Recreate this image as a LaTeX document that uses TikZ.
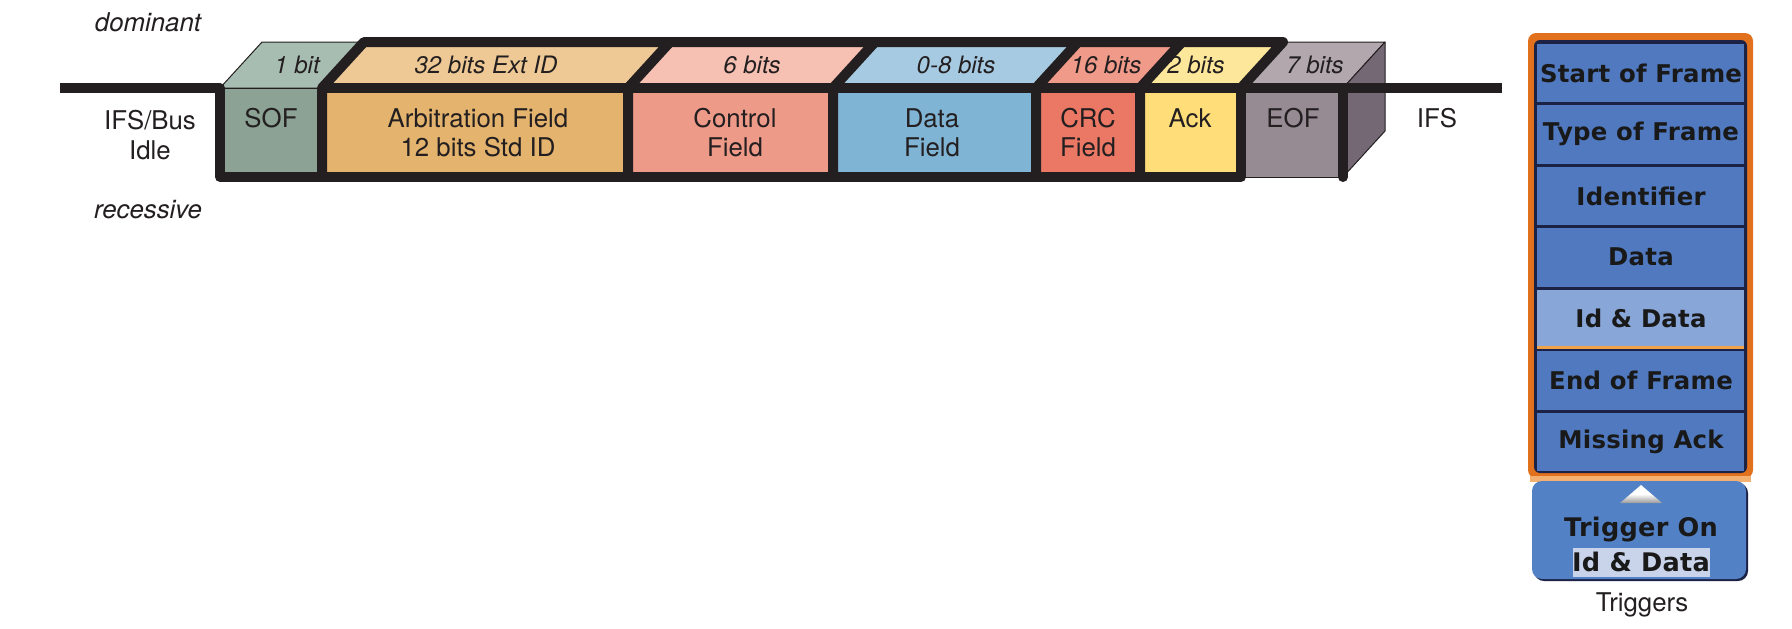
\documentclass[tikz,border=0pt]{standalone}
\usepackage{fontspec}
\setsansfont{TeX Gyre Heros}
\newfontfamily\panelfont[LetterSpace=1]{DejaVu Sans Bold}
\usepackage{tikz}
\usetikzlibrary{shadings}
\definecolor{can-ink}{HTML}{231F20}
\definecolor{sof-front}{HTML}{8BA294}
\definecolor{sof-top}{HTML}{A8BDB1}
\definecolor{arb-front}{HTML}{E4B36E}
\definecolor{arb-top}{HTML}{EEC995}
\definecolor{ctl-front}{HTML}{EE9A89}
\definecolor{ctl-top}{HTML}{F6C0B3}
\definecolor{dat-front}{HTML}{80B4D4}
\definecolor{dat-top}{HTML}{A6CAE1}
\definecolor{crc-front}{HTML}{EA7865}
\definecolor{crc-top}{HTML}{F09A89}
\definecolor{ack-front}{HTML}{FFDE7A}
\definecolor{ack-top}{HTML}{FDE79A}
\definecolor{eof-front}{HTML}{978B93}
\definecolor{eof-top}{HTML}{B1A7AC}
\definecolor{eof-side}{HTML}{746875}
\definecolor{panel-orange}{HTML}{E2711E}
\definecolor{panel-glow}{HTML}{F4B070}
\definecolor{panel-navy}{HTML}{1B2246}
\definecolor{panel-blue}{HTML}{5079BF}
\definecolor{panel-light}{HTML}{89A6D8}
\definecolor{panel-sel}{HTML}{EFA24A}
\definecolor{button-blue}{HTML}{5281C6}
\definecolor{button-hl}{HTML}{C9D4EA}

\begin{document}
\begin{tikzpicture}[x=0.5pt, y=-0.5pt, line join=round,
    facethin/.style={draw=can-ink, line width=0.5pt},
    wirethick/.style={draw=can-ink, line width=5pt},
    fieldlbl/.style={font=\sffamily\fontsize{12.9}{14.6}\selectfont, text=can-ink, align=center, inner sep=0pt},
    bitlbl/.style={font=\sffamily\itshape\fontsize{12}{14}\selectfont, text=can-ink, inner sep=0pt},
    panelrow/.style={fill=panel-blue},
    rowtext/.style={font=\panelfont\fontsize{12.2}{13}\selectfont, text=black!90, inner sep=0pt}]

    \useasboundingbox (0,0) rectangle (1792,628);

    % top faces of the frame fields
    \filldraw[facethin, fill=sof-top] (220,88) -- (262,42) -- (364,42) -- (322,88) -- cycle;
    \filldraw[facethin, fill=arb-top] (322,88) -- (364,42) -- (670,42) -- (628,88) -- cycle;
    \filldraw[facethin, fill=ctl-top] (628,88) -- (670,42) -- (875,42) -- (833,88) -- cycle;
    \filldraw[facethin, fill=dat-top] (833,88) -- (875,42) -- (1078,42) -- (1036,88) -- cycle;
    \filldraw[facethin, fill=crc-top] (1036,88) -- (1078,42) -- (1182,42) -- (1140,88) -- cycle;
    \filldraw[facethin, fill=ack-top] (1140,88) -- (1182,42) -- (1283,42) -- (1241,88) -- cycle;
    \filldraw[facethin, fill=eof-top] (1241,88) -- (1283,42) -- (1385,42) -- (1343,88) -- cycle;
    \filldraw[facethin, fill=eof-side] (1343,88) -- (1385,42) -- (1385,131) -- (1343,177) -- cycle;

    % front faces
    \filldraw[facethin, fill=sof-front] (220,88) rectangle (322,177);
    \filldraw[facethin, fill=arb-front] (322,88) rectangle (628,177);
    \filldraw[facethin, fill=ctl-front] (628,88) rectangle (833,177);
    \filldraw[facethin, fill=dat-front] (833,88) rectangle (1036,177);
    \filldraw[facethin, fill=crc-front] (1036,88) rectangle (1140,177);
    \filldraw[facethin, fill=ack-front] (1140,88) rectangle (1241,177);
    \filldraw[facethin, fill=eof-front] (1241,88) rectangle (1343,177);

    % bus level (the thick waveform) and the outline of the frame
    \draw[wirethick] (60,88) -- (220,88) -- (220,177) -- (1241,177) -- (1241,88) -- (1502,88);
    \draw[wirethick] (322,177) -- (322,88) -- (364,42) -- (1283,42) -- (1241,88);
    \draw[wirethick] (322,88) -- (1241,88);
    \draw[wirethick] (628,177) -- (628,88) -- (670,42);
    \draw[wirethick] (833,177) -- (833,88) -- (875,42);
    \draw[wirethick] (1036,177) -- (1036,88) -- (1078,42);
    \draw[wirethick] (1140,177) -- (1140,88) -- (1182,42);
    \draw[wirethick, line cap=round] (1343,88) -- (1343,177);

    % bit counts on the top faces
    \node[bitlbl] (b-sof) at (297,65) {1 bit};
    \node[bitlbl] (b-arb) at (486,65) {32 bits Ext ID};
    \node[bitlbl] (b-ctl) at (752,65) {6 bits};
    \node[bitlbl] (b-dat) at (956,65) {0-8 bits};
    \node[bitlbl] (b-crc) at (1106,65) {16 bits};
    \node[bitlbl] (b-ack) at (1196,65) {2 bits};
    \node[bitlbl] (b-eof) at (1315,65) {7 bits};

    % field names
    \node[fieldlbl] (f-sof) at (271,118) {SOF};
    \node[fieldlbl] (f-arb) at (478,132.5) {Arbitration Field\\12 bits Std ID};
    \node[fieldlbl] (f-ctl) at (735,132.5) {Control\\Field};
    \node[fieldlbl] (f-dat) at (932,132.5) {Data\\Field};
    \node[fieldlbl] (f-crc) at (1088,132.5) {CRC\\Field};
    \node[fieldlbl] (f-ack) at (1190,118) {Ack};
    \node[fieldlbl] (f-eof) at (1293,118) {EOF};

    % bus states
    \node[fieldlbl, font=\sffamily\itshape\fontsize{12.9}{14.6}\selectfont] (dominant) at (148,22) {dominant};
    \node[fieldlbl, font=\sffamily\itshape\fontsize{12.9}{14.6}\selectfont] (recessive) at (148,210) {recessive};
    \node[fieldlbl] (idle) at (150,135) {IFS/Bus\\Idle};
    \node[fieldlbl] (ifs) at (1437,118) {IFS};

    % trigger menu
    \fill[panel-orange, rounded corners=4pt] (1528,33) rectangle (1753,478);
    \fill[panel-glow] (1530,476) rectangle (1751,482);
    \fill[panel-navy, rounded corners=3pt] (1534,40) rectangle (1747,473);
    \fill[panelrow] (1537,43.5) rectangle (1744,102);
    \fill[panelrow] (1537,105) rectangle (1744,163.5);
    \fill[panelrow] (1537,166.5) rectangle (1744,225);
    \fill[panelrow] (1537,228) rectangle (1744,286.5);
    \fill[panel-light] (1537,289.5) rectangle (1744,346);
    \fill[panel-sel] (1537,346) rectangle (1744,349);
    \fill[panelrow] (1537,351) rectangle (1744,409.5);
    \fill[panelrow] (1537,412.5) rectangle (1744,470.5);

    \node[rowtext] (t-start) at (1641,73) {Start of Frame};
    \node[rowtext] (t-type) at (1641,134) {Type of Frame};
    \node[rowtext] (t-ident) at (1641,196) {Identifier};
    \node[rowtext] (t-data) at (1641,257) {Data};
    \node[rowtext] (t-iddata) at (1641,318) {Id \& Data};
    \node[rowtext] (t-end) at (1641,380) {End of Frame};
    \node[rowtext] (t-miss) at (1641,442) {Missing Ack};

    % trigger button
    \fill[panel-navy, rounded corners=5pt] (1534,483) rectangle (1748,581);
    \fill[button-blue, rounded corners=5pt] (1532,481) rectangle (1746,579);
    \shade[top color=white, bottom color=gray!80, middle color=white] (1620,503) -- (1641,485) -- (1662,503) -- cycle;
    \fill[button-hl] (1573,548) rectangle (1710,577);
    \node[rowtext, font=\panelfont\fontsize{12.8}{14}\selectfont] (t-on) at (1641,530) {Trigger On};
    \node[rowtext, font=\panelfont\fontsize{12.8}{14}\selectfont] (t-sel) at (1641,562) {Id \& Data};
    \node[fieldlbl] (triggers) at (1642,605) {Triggers};

\end{tikzpicture}
\end{document}
